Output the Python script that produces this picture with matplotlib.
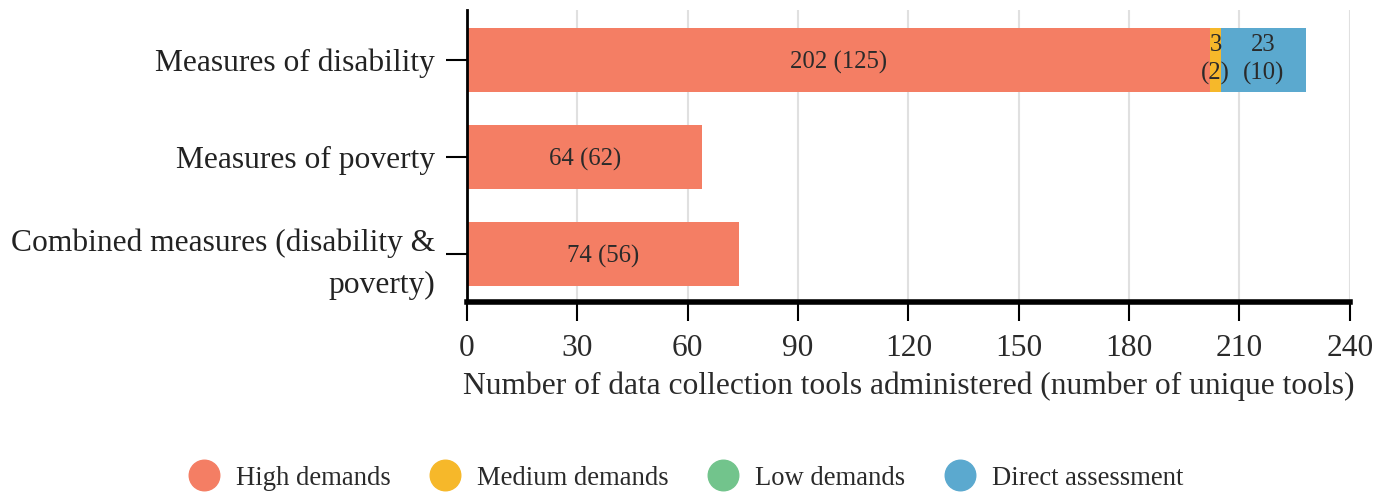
import matplotlib
matplotlib.use("Agg")
import matplotlib.pyplot as plt
from matplotlib.lines import Line2D

plt.rcParams['font.family'] = ['Liberation Serif', 'DejaVu Serif']

categories = ["Measures of disability", "Measures of poverty", "Combined measures (disability &\npoverty)"]
series_names = ["High demands", "Medium demands", "Low demands", "Direct assessment"]
colors = ["#F47E64", "#F6B82A", "#72C48C", "#5BA9CF"]
values = {
    "High demands": [202, 64, 74],
    "Medium demands": [3, 0, 0],
    "Low demands": [0, 0, 0],
    "Direct assessment": [23, 0, 0],
}
unique = {
    "High demands": [125, 62, 56],
    "Medium demands": [2, 0, 0],
    "Low demands": [0, 0, 0],
    "Direct assessment": [10, 0, 0],
}
xticks = [0, 30, 60, 90, 120, 150, 180, 210, 240]

fig = plt.figure(figsize=(13.88, 4.92), dpi=100)
ax = fig.add_axes([0.3365, 0.386, 0.636, 0.594])

ypos = list(range(len(categories)))
left = [0] * len(categories)
for name, col in zip(series_names, colors):
    vals = values[name]
    ax.barh(ypos, vals, left=left, height=0.66, color=col, zorder=2)
    for i, v in enumerate(vals):
        if v > 0:
            cx = left[i] + v / 2
            if v >= 30:
                ax.text(cx, i, f"{v} ({unique[name][i]})", ha='center', va='center_baseline',
                        fontsize=17.8, color='#2a2a2a', zorder=3)
            else:
                ax.text(cx, i, f"{v}\n({unique[name][i]})", ha='center', va='center',
                        fontsize=17.8, color='#2a2a2a', linespacing=1.35, zorder=3)
    left = [l + v for l, v in zip(left, vals)]

ax.set_xlim(0, 240)
ax.set_ylim(2.495, -0.515)
ax.set_xticks(xticks)
ax.set_xticklabels([str(t) for t in xticks], fontsize=22.7, color='#2a2a2a')
ax.set_yticks(ypos)
ax.set_yticklabels(categories, fontsize=22.7, color='#222222', linespacing=1.6)
for lbl in ax.get_yticklabels():
    lbl.set_multialignment('right')
ax.grid(axis='x', color='#e0e0e0', linewidth=1.5, zorder=0)
ax.set_axisbelow(True)
for s in ['top', 'right']:
    ax.spines[s].set_visible(False)
ax.spines['left'].set_linewidth(2)
ax.spines['bottom'].set_linewidth(4)
ax.tick_params(axis='x', length=14, width=1.5, pad=9)
ax.tick_params(axis='y', length=15, width=1.5, pad=8)
ax.set_xlabel("Number of data collection tools administered (number of unique tools)",
              fontsize=22.7, color='#2a2a2a', labelpad=6)

handles = [Line2D([0], [0], marker='o', linestyle='', markersize=22, markerfacecolor=c,
                  markeredgecolor=c) for c in colors]
fig.legend(handles, series_names, loc='center', bbox_to_anchor=(0.49, 0.028), ncol=4,
           frameon=False, fontsize=19.2, handletextpad=0.2, columnspacing=1.05,
           labelcolor='#2a2a2a')

fig.savefig("out.png", dpi=100)
